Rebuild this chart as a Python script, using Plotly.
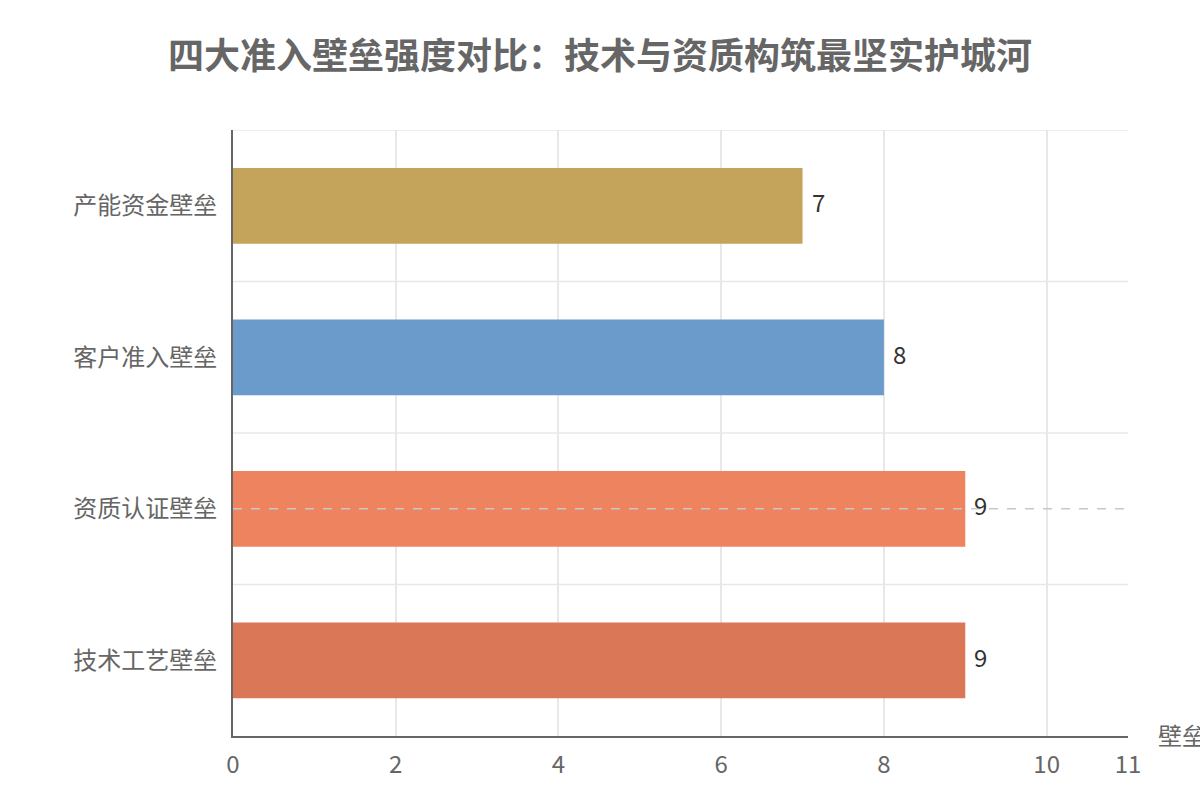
import plotly.graph_objects as go

categories = ["产能资金壁垒", "客户准入壁垒", "资质认证壁垒", "技术工艺壁垒"]
scores = [7, 8, 9, 9]
bar_colors = ["#C4A35A", "#6A9BCB", "#EE8360", "#D97757"]
x_ticks = [0, 2, 4, 6, 8, 10, 11]
marked_category = "资质认证壁垒"
title_text = "四大准入壁垒强度对比：技术与资质构筑最坚实护城河"
x_axis_title = "壁垒强度评分"

font_family = "Noto Sans CJK SC, Noto Sans, sans-serif"
ypos = list(range(len(categories)))

fig = go.Figure()
fig.add_trace(go.Bar(
    x=scores, y=ypos, orientation="h",
    marker=dict(color=bar_colors, line=dict(width=0)),
    width=0.5,
    hoverinfo="skip",
))

for yi, v in zip(ypos, scores):
    fig.add_annotation(x=v, y=yi, xref="x", yref="y", text=str(v), showarrow=False,
                       xanchor="left", yanchor="middle", xshift=7, yshift=4,
                       font=dict(size=24, color="#333333", family=font_family))

# category boundary gridlines
for b in [i - 0.5 for i in range(len(categories))]:
    fig.add_shape(type="line", xref="paper", yref="y", x0=0, x1=1, y0=b, y1=b,
                  line=dict(color="#E8E8E8", width=1.5), layer="below")

# dashed marker line at a category
mi = categories.index(marked_category)
fig.add_shape(type="line", xref="paper", yref="y", x0=0, x1=1, y0=mi, y1=mi,
              line=dict(color="#C8C8C8", width=1.5, dash="dash"), layer="above")

fig.update_layout(
    width=1200, height=800,
    margin=dict(l=233, r=72, t=130, b=64),
    paper_bgcolor="white", plot_bgcolor="white",
    showlegend=False,
    title=dict(text=f"<b>{title_text}</b>", x=0.5, xanchor="center", y=0.93, yanchor="middle",
               font=dict(size=36, color="#666666", family=font_family)),
    xaxis=dict(range=[0, 11], tickvals=x_ticks, showgrid=True, gridcolor="#E8E8E8", gridwidth=1.5,
               showline=True, linecolor="#666666", linewidth=2, zeroline=False,
               ticks="", ticklabelstandoff=6,
               tickfont=dict(size=24, color="#666666", family=font_family)),
    yaxis=dict(range=[len(categories) - 0.5, -0.5], tickvals=ypos, ticktext=categories,
               showgrid=False, zeroline=False, showline=True, linecolor="#666666", linewidth=2,
               ticks="", ticklabelstandoff=9,
               tickfont=dict(size=24, color="#666666", family=font_family)),
)

fig.add_annotation(text=x_axis_title, xref="paper", yref="paper", x=1, y=0, xshift=28, yshift=2,
                   xanchor="left", yanchor="middle", showarrow=False,
                   font=dict(size=24, color="#666666", family=font_family))

fig.write_html("out.html")
